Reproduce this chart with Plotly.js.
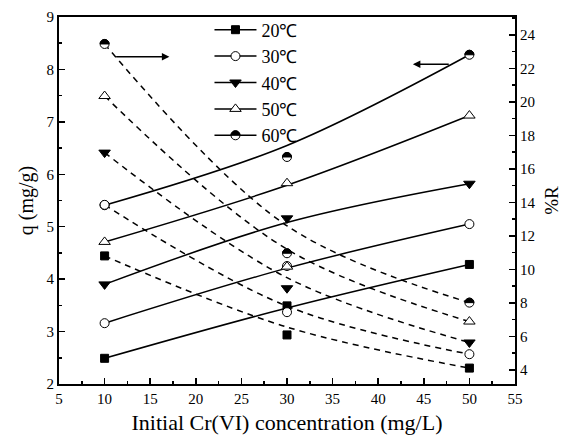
<!DOCTYPE html>
<html>
<head>
<meta charset="utf-8">
<script src="https://cdn.plot.ly/plotly-3.0.1.min.js"></script>
<style>html,body{margin:0;padding:0;background:#fff;}#chart{width:573px;height:439px;}</style>
</head>
<body>
<div id="chart"></div>
<script>
// Data
var conc = [10, 30, 50];
var temps = ['20℃', '30℃', '40℃', '50℃', '60℃'];

// adsorption capacity q (mg/g), markers
var q20 = [2.49, 3.49, 4.28];
var q30 = [3.16, 4.25, 5.05];
var q40 = [3.90, 5.16, 5.82];
var q50 = [4.71, 5.83, 7.12];
var q60 = [5.41, 6.33, 8.28];
// fitted q curves (solid)
var qFit20 = [2.49, 3.45, 4.28];
var qFit30 = [3.16, 4.21, 5.05];
var qFit40 = [3.90, 5.08, 5.82];
var qFit50 = [4.71, 5.79, 7.12];
var qFit60 = [5.41, 6.55, 8.28];

// removal %R, markers
var r20 = [10.80, 6.08, 4.10];
var r30 = [13.85, 7.44, 4.93];
var r40 = [16.97, 8.87, 5.63];
var r50 = [20.35, 10.16, 6.88];
var r60 = [23.46, 10.96, 8.01];
// fitted %R curves (dashed)
var rFit20 = [10.80, 6.55, 4.10];
var rFit30 = [13.85, 7.80, 4.93];
var rFit40 = [16.97, 9.50, 5.63];
var rFit50 = [20.35, 11.20, 6.88];
var rFit60 = [23.46, 12.60, 8.01];

var qData = [q20, q30, q40, q50, q60];
var qFit = [qFit20, qFit30, qFit40, qFit50, qFit60];
var rData = [r20, r30, r40, r50, r60];
var rFit = [rFit20, rFit30, rFit40, rFit50, rFit60];

function markerFor(i) {
  var m = {size: 9, color: 'black', line: {color: 'black', width: 1}};
  if (i === 0) { m.symbol = 'square'; m.size = 8; }
  else if (i === 1) { m.symbol = 'circle'; m.color = 'white'; }
  else if (i === 2) { m.symbol = 'triangle-down'; m.size = 10; }
  else if (i === 3) { m.symbol = 'triangle-up'; m.color = 'white'; m.size = 10; }
  else { m.symbol = 'circle'; m.color = 'white'; }
  return m;
}

var traces = [];
for (var i = 0; i < 5; i++) {
  traces.push({x: conc, y: qFit[i], mode: 'lines', line: {color: 'black', width: 1.5, shape: 'spline'}, showlegend: false, hoverinfo: 'skip', yaxis: 'y'});
  traces.push({x: conc, y: rFit[i], mode: 'lines', line: {color: 'black', width: 1.5, dash: '6px,5px', shape: 'spline'}, showlegend: false, hoverinfo: 'skip', yaxis: 'y2'});
}
for (var i = 0; i < 5; i++) {
  traces.push({x: conc, y: qData[i], mode: 'markers', marker: markerFor(i), showlegend: false, yaxis: 'y', uid: 'qm' + i});
}
for (var i = 0; i < 5; i++) {
  traces.push({x: conc, y: rData[i], mode: 'markers', marker: markerFor(i), showlegend: false, yaxis: 'y2', uid: 'rm' + i});
}
for (var i = 0; i < 5; i++) {
  traces.push({x: [null], y: [null], mode: 'lines+markers', name: temps[i], marker: markerFor(i), line: {color: 'black', width: 1.5}, showlegend: true, yaxis: 'y', uid: 'lg' + i});
}

var serif = 'Liberation Serif, serif';
var tickFont = {family: serif, size: 15, color: 'black'};
var layout = {
  width: 573, height: 439,
  margin: {l: 59, r: 58, t: 17, b: 55},
  paper_bgcolor: 'white', plot_bgcolor: 'white',
  font: {family: serif, color: 'black'},
  showlegend: true,
  legend: {x: 0.33, y: 1.015, xanchor: 'left', yanchor: 'top', bgcolor: 'rgba(0,0,0,0)', borderwidth: 0,
           itemwidth: 42, font: {family: serif, size: 18, color: 'black'}},
  xaxis: {range: [5, 55], dtick: 5, tick0: 5, ticks: 'inside', ticklen: 6, tickwidth: 1.5, tickcolor: 'black',
          minor: {dtick: 2.5, ticks: 'inside', ticklen: 3, tickwidth: 1.5, tickcolor: 'black'},
          showline: true, linewidth: 2, linecolor: 'black', mirror: true, showgrid: false, zeroline: false,
          tickfont: tickFont,
          title: {text: 'Initial Cr(VI) concentration (mg/L)', font: {family: serif, size: 22, color: 'black'}, standoff: 9}},
  yaxis: {range: [2, 9], dtick: 1, ticks: 'inside', ticklen: 6, tickwidth: 1.5, tickcolor: 'black',
          minor: {dtick: 0.5, ticks: 'inside', ticklen: 3, tickwidth: 1.5, tickcolor: 'black'},
          showline: true, linewidth: 2, linecolor: 'black', showgrid: false, zeroline: false,
          tickfont: tickFont,
          title: {text: 'q (mg/g)', font: {family: serif, size: 20, color: 'black'}, standoff: 8}},
  yaxis2: {range: [3.15, 25.07], dtick: 2, tick0: 4, overlaying: 'y', side: 'right', ticks: 'inside', ticklen: 6, tickwidth: 1.5, tickcolor: 'black',
          minor: {dtick: 1, ticks: 'inside', ticklen: 3, tickwidth: 1.5, tickcolor: 'black'},
          showline: true, linewidth: 2, linecolor: 'black', showgrid: false, zeroline: false,
          tickfont: tickFont,
          title: {text: '%R', font: {family: serif, size: 19, color: 'black'}, standoff: 10}},
  annotations: [
    {x: 17.1, y: 8.24, ax: 11.1, ay: 8.24, xref: 'x', yref: 'y', axref: 'x', ayref: 'y', text: '', showarrow: true, arrowhead: 2, arrowsize: 1, arrowwidth: 1.5, arrowcolor: 'black'},
    {x: 43.8, y: 8.10, ax: 47.9, ay: 8.10, xref: 'x', yref: 'y', axref: 'x', ayref: 'y', text: '', showarrow: true, arrowhead: 2, arrowsize: 1, arrowwidth: 1.5, arrowcolor: 'black'}
  ]
};

// Add the black upper half to the 60℃ circle markers drawn by Plotly
function halfFill(path) {
  var r = 4.5;
  var half = document.createElementNS('http://www.w3.org/2000/svg', 'path');
  half.setAttribute('d', 'M' + (-r) + ',0A' + r + ',' + r + ' 0 0,1 ' + r + ',0Z');
  half.setAttribute('transform', path.getAttribute('transform') || '');
  half.setAttribute('style', 'fill:black;stroke:black;stroke-width:1px;');
  path.parentNode.insertBefore(half, path.nextSibling);
}

Plotly.newPlot('chart', traces, layout, {displayModeBar: false, staticPlot: true}).then(function (gd) {
  ['qm4', 'rm4'].forEach(function (uid) {
    var g = gd.querySelector('.trace' + uid);
    if (g) g.querySelectorAll('path.point').forEach(halfFill);
  });
  gd.querySelectorAll('.legend .traces').forEach(function (t) {
    var txt = t.querySelector('.legendtext');
    if (txt && txt.textContent === temps[4]) {
      t.querySelectorAll('.legendpoints path.scatterpts').forEach(halfFill);
    }
  });
});
</script>
</body>
</html>
